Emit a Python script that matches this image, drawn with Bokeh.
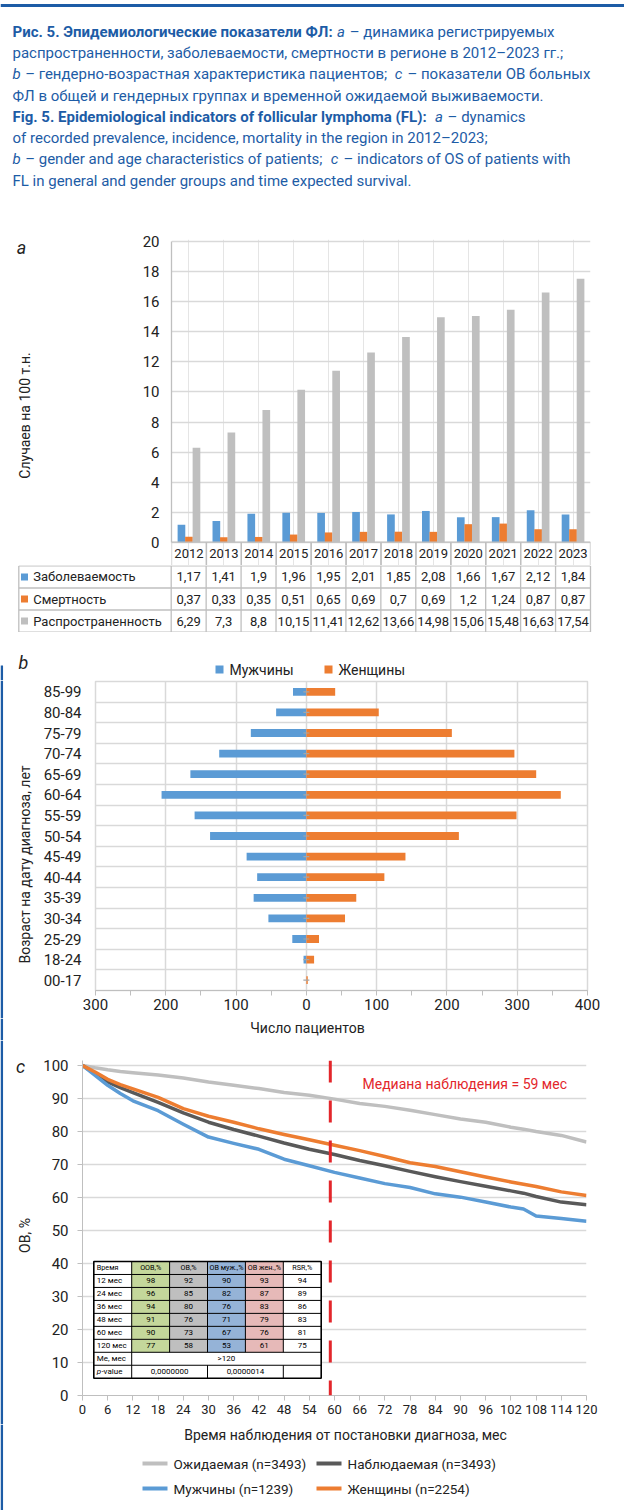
import math
from bokeh.plotting import figure
from bokeh.layouts import column, row
from bokeh.models import (Range1d, FactorRange, FixedTicker, Span, ColumnDataSource)
from bokeh.transform import dodge
from bokeh.core.properties import value
from bokeh.embed import file_html
from bokeh.resources import INLINE

# ------------------------------------------------------------------ data
# panel a
years = ["2012", "2013", "2014", "2015", "2016", "2017",
         "2018", "2019", "2020", "2021", "2022", "2023"]
incidence = [1.17, 1.41, 1.9, 1.96, 1.95, 2.01, 1.85, 2.08, 1.66, 1.67, 2.12, 1.84]
mortality = [0.37, 0.33, 0.35, 0.51, 0.65, 0.69, 0.7, 0.69, 1.2, 1.24, 0.87, 0.87]
prevalence = [6.29, 7.3, 8.8, 10.15, 11.41, 12.62, 13.66, 14.98, 15.06, 15.48, 16.63, 17.54]
series_a = ["Заболеваемость", "Смертность", "Распространенность"]
y_ticks_a = [0, 2, 4, 6, 8, 10, 12, 14, 16, 18, 20]
title_a = "Случаев на 100 т.н."

# panel b
age_groups = ["85-99", "80-84", "75-79", "70-74", "65-69", "60-64", "55-59", "50-54",
              "45-49", "40-44", "35-39", "30-34", "25-29", "18-24", "00-17"]
men = [19, 43, 79, 124, 165, 206, 159, 137, 85, 70, 75, 54, 20, 4, 0]
women = [41, 103, 207, 296, 327, 362, 299, 217, 141, 111, 71, 55, 18, 11, 2]
sex_labels = ["Мужчины", "Женщины"]
x_ticks_b = [-300, -200, -100, 0, 100, 200, 300, 400]
x_minor_b = [-250, -150, -50, 50, 150, 250, 350]
title_b_y = "Возраст на дату диагноза, лет"
title_b_x = "Число пациентов"

# panel c
months = [0, 3, 6, 9, 12, 18, 24, 30, 36, 42, 48, 54, 60, 66, 72, 78, 84, 90, 96,
          102, 105, 108, 114, 120]
expected = [100, 99.3, 98.7, 98.2, 97.8, 97.1, 96.2, 95.0, 94.0, 93.0, 91.8, 91.0, 89.8,
            88.5, 87.6, 86.4, 85.1, 83.8, 82.8, 81.3, 80.7, 80.0, 78.8, 76.8]
observed = [100, 97.5, 95.0, 93.3, 91.8, 88.8, 85.6, 82.8, 80.6, 78.6, 76.5, 74.6, 73.0,
            71.2, 69.6, 67.9, 66.3, 64.8, 63.4, 62.0, 61.3, 60.3, 58.6, 57.8]
males = [100, 97.0, 94.0, 91.5, 89.3, 86.3, 82.2, 78.3, 76.4, 74.6, 71.6, 69.6, 67.6,
         65.9, 64.2, 63.0, 61.1, 60.1, 58.6, 57.1, 56.5, 54.4, 53.6, 52.8]
females = [100, 98.0, 95.8, 94.2, 92.9, 90.3, 86.9, 84.6, 82.8, 80.8, 79.1, 77.5, 75.8,
           74.2, 72.4, 70.5, 69.4, 67.8, 66.2, 64.7, 64.0, 63.3, 61.7, 60.6]
curve_labels = ["Ожидаемая (n=3493)", "Наблюдаемая (n=3493)",
                "Мужчины (n=1239)", "Женщины (n=2254)"]
x_ticks_c = [0, 6, 12, 18, 24, 30, 36, 42, 48, 54, 60, 66, 72, 78, 84, 90, 96, 102, 108, 114, 120]
y_ticks_c = [0, 10, 20, 30, 40, 50, 60, 70, 80, 90, 100]
median_follow = 59
median_text = "Медиана наблюдения = 59 мес"
title_c_y = "ОВ, %"
title_c_x = "Время наблюдения от постановки диагноза, мес"

table_head = ["Время", "ООВ,%", "ОВ,%", "ОВ муж.,%", "ОВ жен.,%", "RSR,%"]
table_times = ["12 мес", "24 мес", "36 мес", "48 мес", "60 мес", "120 мес"]
t_oov = [98, 96, 94, 91, 90, 77]
t_ov = [92, 85, 80, 76, 73, 58]
t_ov_m = [90, 82, 76, 71, 67, 53]
t_ov_f = [93, 87, 83, 79, 76, 61]
t_rsr = [94, 89, 86, 83, 81, 75]
me_label, me_value = "Me, мес", ">120"
p_label = "-value"
p_values = ["0,0000000", "0,0000014"]

caption = [
    [("Рис. 5. Эпидемиологические показатели ФЛ:", "bold"), ("a", "italic"),
     ("– динамика регистрируемых", "normal")],
    [("распространенности, заболеваемости, смертности в регионе в 2012–2023 гг.;", "normal")],
    [("b", "italic"), ("– гендерно-возрастная характеристика пациентов;", "normal"),
     ("c", "italic"), ("– показатели ОВ больных", "normal")],
    [("ФЛ в общей и гендерных группах и временной ожидаемой выживаемости.", "normal")],
    [("Fig. 5. Epidemiological indicators of follicular lymphoma (FL):", "bold"),
     ("a", "italic"), ("– dynamics", "normal")],
    [("of recorded prevalence, incidence, mortality in the region in 2012–2023;", "normal")],
    [("b", "italic"), ("– gender and age characteristics of patients;", "normal"),
     ("c", "italic"), ("– indicators of OS of patients with", "normal")],
    [("FL in general and gender groups and time expected survival.", "normal")],
]
caption_y = [31, 52, 73, 95, 116, 137, 158, 180]

# ------------------------------------------------------------------ styles
FONT = "Roboto"
CAP = "#1d5ca6"
TXT = "#222222"
GRID = "#d9d9d9"
AXIS = "#bfbfbf"
BLUE = "#5b9bd5"
ORANGE = "#ed7d31"
GRAY = "#bfbfbf"
DARK = "#595959"
RED = "#e3262b"
GREEN_C = "#c4d79b"
GRAY_C = "#bfbfbf"
BLUE_C = "#95b3d7"
PINK_C = "#e6b9b8"
W = 624
CAP_SIZE = 15


def est_w(text, size, style="normal"):
    """rough advance width of a string in Roboto (px), used to chain caption segments"""
    w = 0.0
    for ch in text:
        if ch == " ":
            w += 0.25
        elif ch in "ilI.,:;!|'j":
            w += 0.25
        elif ch in "frt()":
            w += 0.35
        elif ch in "mwMWжмшщыюфЖМШЩЫЮФ":
            w += 0.78
        elif ch in "г":
            w += 0.39
        elif ch.isdigit():
            w += 0.562
        elif ch == "–":
            w += 0.6
        elif ch.isupper():
            w += 0.66
        else:
            w += 0.545
    return w * size * {"bold": 1.018, "italic": 1.0, "normal": 1.0}[style]


def base(width, height, xr, yr, bl, br, bt, bb, **kw):
    p = figure(width=width, height=height, x_range=xr, y_range=yr, toolbar_location=None,
               output_backend="svg", min_border_left=bl, min_border_right=br,
               min_border_top=bt, min_border_bottom=bb, **kw)
    p.outline_line_color = None
    p.background_fill_color = "white"
    p.border_fill_color = "white"
    p.frame_align = False
    return p


def text_fig(width, height):
    return base(width, height, Range1d(0, width), Range1d(height, 0), 0, 0, 0, 0,
                x_axis_type=None, y_axis_type=None)


def put_text(p, x, y, text, size, color=TXT, style="normal", align="left", angle=0.0):
    p.text(x=[x], y=[y], text=[text], text_font=value(FONT), text_font_size=f"{size}px",
           text_font_style=style, text_color=color, text_align=align,
           text_baseline="middle", angle=angle)


def edge_line(p, y0, y1):
    p.segment(x0=[1.3], y0=[y0], x1=[1.3], y1=[y1], line_color=CAP, line_width=2.5)


def fmt(v):
    return str(v).replace(".", ",")


# ------------------------------------------------------------------ caption (page y 0..228)
ph = text_fig(W, 228)
ph.add_layout(Span(location=5, dimension="width", line_color=CAP, line_width=3))
for segs, yl in zip(caption, caption_y):
    xpos = 12
    for txt, style in segs:
        put_text(ph, xpos, yl, txt, CAP_SIZE, color=CAP, style=style)
        xpos += est_w(txt, CAP_SIZE, style) + 0.3 * CAP_SIZE

# ------------------------------------------------------------------ panel a (page y 228..565)
pa_t = text_fig(68, 337)
put_text(pa_t, 21, 19, "a", 18, style="italic", align="center")
put_text(pa_t, 24, 187, title_a, 14, align="center", angle=math.pi / 2)

YEAR_ROW = 1.55          # height of the year row of the data table, in y units
src_a = ColumnDataSource(dict(year=years, inc=incidence, mort=mortality, prev=prevalence,
                              lab_y=[-YEAR_ROW / 2] * len(years)))
pa = base(556, 337, FactorRange(factors=years), Range1d(-YEAR_ROW, 20.15), 103, 34, 11, 0,
          x_axis_location=None)
bw = 0.22
pa.vbar(x=dodge("year", -0.215, range=pa.x_range), top="inc", width=bw, source=src_a,
        fill_color=BLUE, line_color=None)
pa.vbar(x=dodge("year", 0.0, range=pa.x_range), top="mort", width=bw, source=src_a,
        fill_color=ORANGE, line_color=None)
pa.vbar(x=dodge("year", 0.215, range=pa.x_range), top="prev", width=bw, source=src_a,
        fill_color=GRAY, line_color=None)
ya = pa.yaxis[0]
ya.ticker = FixedTicker(ticks=y_ticks_a)
ya.bounds = (0, 20)
ya.axis_line_color = AXIS
ya.axis_line_width = 1.3
ya.major_tick_line_color = None
ya.minor_tick_line_color = None
ya.major_label_text_font = FONT
ya.major_label_text_font_size = "15px"
ya.major_label_text_color = TXT
ya.major_label_standoff = 6
pa.ygrid.grid_line_color = GRID
pa.ygrid.grid_line_width = 1.5
# year row of the data table (cell borders follow the category scale)
pa.segment(x0=dodge("year", -0.5, range=pa.x_range), y0=0,
           x1=dodge("year", -0.5, range=pa.x_range), y1=-YEAR_ROW, source=src_a,
           line_color=AXIS, line_width=1.3)
pa.segment(x0=dodge("year", 0.5, range=pa.x_range), y0=0,
           x1=dodge("year", 0.5, range=pa.x_range), y1=-YEAR_ROW, source=src_a,
           line_color=AXIS, line_width=1.3)
pa.add_layout(Span(location=0, dimension="width", line_color=AXIS, line_width=1.3))
pa.text(x="year", y="lab_y", text="year", source=src_a, text_font=value(FONT),
        text_font_size="13px", text_color=TXT, text_align="center", text_baseline="middle")

# ------------------------------------------------------------------ panel a data table (565..632)
n = len(years)
LBL_LEFT = -4.3618
pt = base(W, 67, Range1d(-4.4276, 12.1717), Range1d(3.02, -0.02), 16, 28, 0, 0,
          x_axis_type=None, y_axis_type=None)
xs_l, ys_l = [], []
for r in range(0, 4):
    xs_l.append([LBL_LEFT, n]); ys_l.append([r, r])
for c in range(n + 1):
    xs_l.append([c, c]); ys_l.append([0, 3])
xs_l.append([LBL_LEFT, LBL_LEFT]); ys_l.append([0, 3])
pt.multi_line(xs=xs_l, ys=ys_l, line_color=AXIS, line_width=1.3)
xc = [i + 0.5 for i in range(n)]
for r, vals in enumerate([incidence, mortality, prevalence]):
    pt.text(x=xc, y=[r + 0.5] * n, text=[fmt(v) for v in vals], text_font=value(FONT),
            text_font_size="13px", text_color=TXT, text_align="center",
            text_baseline="middle")
pt.scatter(x=[-4.1987] * 3, y=[0.5, 1.5, 2.5], marker="square", size=7,
           fill_color=[BLUE, ORANGE, GRAY], line_color=None)
pt.text(x=[-3.9496] * 3, y=[0.5, 1.5, 2.5], text=series_a, text_font=value(FONT),
        text_font_size="13px", text_color=TXT, text_align="left", text_baseline="middle")

# ------------------------------------------------------------------ panel b (632..1040)
pb_top = text_fig(W, 48)                       # page y 632..680
put_text(pb_top, 23, 30, "b", 18, style="italic", align="center")
pb_top.scatter(x=[219, 328], y=[37, 37], marker="square", size=8,
               fill_color=[BLUE, ORANGE], line_color=None)
for xl, lab in zip([229, 338], sex_labels):
    put_text(pb_top, xl, 37, lab, 14)
edge_line(pb_top, 33, 48)

pb_t = text_fig(38, 338)                       # page y 680..1018
put_text(pb_t, 24, 184, title_b_y, 14, align="center", angle=math.pi / 2)
edge_line(pb_t, 0, 338)

src_b = ColumnDataSource(dict(age=age_groups, men_left=[-v for v in men], women=women))
pb = base(586, 338, Range1d(-300, 400), FactorRange(factors=list(reversed(age_groups))),
          57, 37, 1, 28)
pb.hbar(y="age", left="men_left", right=0, height=0.38, source=src_b,
        fill_color=BLUE, line_color=None)
pb.hbar(y="age", left=0, right="women", height=0.38, source=src_b,
        fill_color=ORANGE, line_color=None)
pb.scatter(x=0, y="age", source=src_b, marker="dash", size=6, line_color="#a6a6a6",
           line_width=1.2)
xb = pb.xaxis[0]
xb.ticker = FixedTicker(ticks=x_ticks_b, minor_ticks=x_minor_b)
xb.major_label_overrides = {t: str(abs(t)) for t in x_ticks_b}
xb.axis_line_color = AXIS
xb.major_tick_line_color = AXIS
xb.minor_tick_line_color = AXIS
xb.major_tick_out = 5
xb.major_tick_in = 0
xb.minor_tick_out = 5
xb.minor_tick_in = 0
xb.major_label_text_font = FONT
xb.major_label_text_font_size = "15px"
xb.major_label_text_color = TXT
xb.major_label_standoff = 3
yb = pb.yaxis[0]
yb.axis_line_color = None
yb.major_tick_line_color = None
yb.minor_tick_line_color = None
yb.major_label_text_font = FONT
yb.major_label_text_font_size = "15px"
yb.major_label_text_color = TXT
yb.major_label_standoff = 8
pb.xgrid.grid_line_color = GRID
pb.xgrid.grid_line_width = 1.5
pb.ygrid.ticker = FixedTicker(ticks=list(range(1, len(age_groups))))
pb.ygrid.grid_line_color = GRID
pb.ygrid.grid_line_width = 1.5
pb.outline_line_color = GRID
pb.outline_line_width = 1.5

pb_b = text_fig(W, 22)                         # page y 1018..1040
put_text(pb_b, 307, 9, title_b_x, 14, align="center")
edge_line(pb_b, 0, 22)

# ------------------------------------------------------------------ panel c (1040..1510)
pc_t = text_fig(38, 384)                       # page y 1040..1424
put_text(pc_t, 20, 26, "c", 18, style="italic", align="center")
put_text(pc_t, 24, 195, title_c_y, 14, align="center", angle=math.pi / 2)
edge_line(pc_t, 0, 384)

pc = base(586, 384, Range1d(0, 120), Range1d(0, 101.5), 44, 38, 20, 29)
pc.line(months, expected, line_color=GRAY, line_width=3.5, line_join="round")
pc.line(months, observed, line_color=DARK, line_width=3.5, line_join="round")
pc.line(months, males, line_color=BLUE, line_width=3.5, line_join="round")
pc.line(months, females, line_color=ORANGE, line_width=3.5, line_join="round")
xcx = pc.xaxis[0]
xcx.ticker = FixedTicker(ticks=x_ticks_c)
xcx.axis_line_color = AXIS
xcx.major_tick_line_color = AXIS
xcx.minor_tick_line_color = None
xcx.major_tick_out = 5
xcx.major_tick_in = 0
xcx.major_label_text_font = FONT
xcx.major_label_text_font_size = "13px"
xcx.major_label_text_color = TXT
xcx.major_label_standoff = 4
ycy = pc.yaxis[0]
ycy.ticker = FixedTicker(ticks=y_ticks_c)
ycy.axis_line_color = AXIS
ycy.major_tick_line_color = AXIS
ycy.minor_tick_line_color = None
ycy.major_tick_out = 5
ycy.major_tick_in = 0
ycy.major_label_text_font = FONT
ycy.major_label_text_font_size = "15px"
ycy.major_label_text_color = TXT
ycy.major_label_standoff = 9
pc.ygrid.grid_line_color = GRID
pc.ygrid.grid_line_width = 1.5
pc.xgrid.visible = False
pc.add_layout(Span(location=median_follow, dimension="height", line_color=RED,
                   line_width=3, line_dash="22 18"))

C_FL, C_FB = 82, 1395
SY = 335 / 101.5


def cx(xi):
    return (xi - C_FL) / 4.2


def cy(yi):
    return (C_FB - yi) / SY


pc.text(x=[cx(362)], y=[cy(1083)], text=[median_text], text_font=value(FONT),
        text_font_size="14px", text_color=RED, text_align="left", text_baseline="middle")

# survival table inside panel c
TL, TW, TT, TH = 93.3, 37.9, 1261.0, 12.97
ncol, nrow = 6, 9
pc.quad(left=[cx(TL)], right=[cx(TL + ncol * TW)], top=[cy(TT)], bottom=[cy(TT + nrow * TH)],
        fill_color="white", line_color=None)
col_colors = [GREEN_C, GRAY_C, BLUE_C, PINK_C]
ql, qr, qt, qb, qc = [], [], [], [], []
for r in range(7):
    for ci, colr in enumerate(col_colors, start=1):
        ql.append(cx(TL + ci * TW)); qr.append(cx(TL + (ci + 1) * TW))
        qt.append(cy(TT + r * TH)); qb.append(cy(TT + (r + 1) * TH)); qc.append(colr)
pc.quad(left=ql, right=qr, top=qt, bottom=qb, fill_color=qc, line_color=None)
lx, ly = [], []
for r in range(1, nrow):
    lx.append([cx(TL), cx(TL + ncol * TW)]); ly.append([cy(TT + r * TH)] * 2)
for c in range(1, ncol):
    lx.append([cx(TL + c * TW)] * 2); ly.append([cy(TT), cy(TT + 7 * TH)])
lx.append([cx(TL + TW)] * 2); ly.append([cy(TT + 7 * TH), cy(TT + 8 * TH)])
for c in [1, 3, 5]:
    lx.append([cx(TL + c * TW)] * 2); ly.append([cy(TT + 8 * TH), cy(TT + 9 * TH)])
pc.multi_line(xs=lx, ys=ly, line_color="black", line_width=1)
pc.quad(left=[cx(TL)], right=[cx(TL + ncol * TW)], top=[cy(TT)], bottom=[cy(TT + nrow * TH)],
        fill_color=None, line_color="black", line_width=1.6)

tx, ty, tt, ta, tsz = [], [], [], [], []
for ci, h in enumerate(table_head):
    if ci == 0:
        tx.append(cx(TL + 3)); ta.append("left")
    else:
        tx.append(cx(TL + (ci + 0.5) * TW)); ta.append("center")
    ty.append(cy(TT + 0.5 * TH)); tt.append(h); tsz.append("7.2px")
rows_vals = list(zip(table_times, t_oov, t_ov, t_ov_m, t_ov_f, t_rsr))
for r, rv in enumerate(rows_vals, start=1):
    for ci, v in enumerate(rv):
        if ci == 0:
            tx.append(cx(TL + 3)); ta.append("left")
        else:
            tx.append(cx(TL + (ci + 0.5) * TW)); ta.append("center")
        ty.append(cy(TT + (r + 0.5) * TH)); tt.append(str(v)); tsz.append("8px")
tx += [cx(TL + 3), cx(TL + 3.5 * TW), cx(TL + 2 * TW), cx(TL + 4 * TW), cx(TL + 7.6)]
ty += [cy(TT + 7.5 * TH), cy(TT + 7.5 * TH), cy(TT + 8.5 * TH), cy(TT + 8.5 * TH),
       cy(TT + 8.5 * TH)]
tt += [me_label, me_value, p_values[0], p_values[1], p_label]
ta += ["left", "center", "center", "center", "left"]
tsz += ["8px"] * 5
src_t = ColumnDataSource(dict(x=tx, y=ty, t=tt, a=ta, s=tsz))
pc.text(x="x", y="y", text="t", text_align="a", text_font_size="s", source=src_t,
        text_font=value(FONT), text_color="black", text_baseline="middle")
pc.text(x=[cx(TL + 3)], y=[cy(TT + 8.5 * TH)], text=["p"], text_font=value(FONT),
        text_font_size="8px", text_font_style="italic", text_color="black",
        text_baseline="middle", text_align="left")

pc_bot = text_fig(W, 86)                       # page y 1424..1510
put_text(pc_bot, 345, 10, title_c_x, 14, align="center")
edge_line(pc_bot, 0, 86)
leg_colors = [GRAY, DARK, BLUE, ORANGE]
leg_x = [142, 316, 142, 316]
leg_y = [39, 39, 64, 64]
pc_bot.segment(x0=leg_x, y0=leg_y, x1=[v + 25 for v in leg_x], y1=leg_y,
               line_color=leg_colors, line_width=4)
for xl, yl, lab in zip(leg_x, leg_y, curve_labels):
    put_text(pc_bot, xl + 31, yl, lab, 13.5)

layout = column(ph, row(pa_t, pa), pt, pb_top, row(pb_t, pb), pb_b, row(pc_t, pc), pc_bot)
open("out.html", "w").write(file_html(layout, INLINE))
